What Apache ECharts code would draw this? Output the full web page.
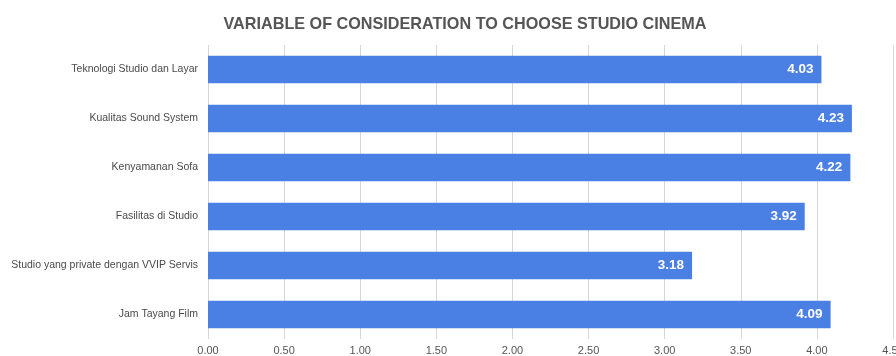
<!DOCTYPE html>
<html><head><meta charset="utf-8">
<script src="https://cdn.jsdelivr.net/npm/echarts@6/dist/echarts.min.js"></script>
<style>html,body{margin:0;padding:0;background:#fff}#c{width:896px;height:356px}</style>
</head><body><div id="c"></div>
<script>
const categories = ["Teknologi Studio dan Layar","Kualitas Sound System","Kenyamanan Sofa","Fasilitas di Studio","Studio yang private dengan VVIP Servis","Jam Tayang Film"];
const values = [4.03, 4.23, 4.22, 3.92, 3.18, 4.09];
const titleText = "VARIABLE OF CONSIDERATION TO CHOOSE STUDIO CINEMA";

const chart = echarts.init(document.getElementById('c'), null, {renderer:'canvas'});
chart.setOption({
  animation:false,
  title:{text:titleText,left:460,top:12,textAlign:'center',
    textStyle:{fontFamily:'Liberation Sans, Arial',fontSize:16.2,fontWeight:'bold',color:'#555'}},
  grid:{left:208,right:3,top:45,bottom:17,containLabel:false,outerBoundsMode:'none'},
  xAxis:{type:'value',min:0,max:4.5,interval:0.5,
    axisLine:{show:false},axisTick:{show:false},
    splitLine:{lineStyle:{color:'#d6d6d6',width:1}},
    axisLabel:{formatter:v=>v.toFixed(2),color:'#555',fontSize:11,fontFamily:'Liberation Sans, Arial',margin:6,showMaxLabel:true,hideOverlap:false}},
  yAxis:{type:'category',data:categories,inverse:true,
    axisLine:{show:false},axisTick:{show:false},
    axisLabel:{color:'#4a4a4a',fontSize:10.5,fontFamily:'Liberation Sans, Arial',margin:10}},
  series:[{type:'bar',data:values,barCategoryGap:'44%',
    itemStyle:{color:'#4a7fe4'},
    label:{show:true,position:'insideRight',offset:[-3,0],color:'#fff',fontWeight:'bold',fontSize:13.5,
      fontFamily:'Liberation Sans, Arial',formatter:p=>p.value.toFixed(2)}}]
});
</script></body></html>
